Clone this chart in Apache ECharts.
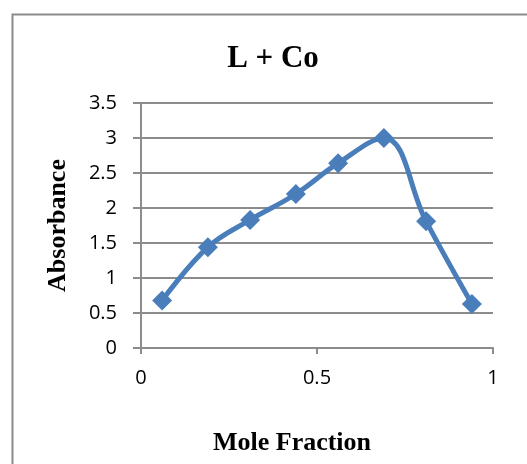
<!DOCTYPE html>
<html>
<head>
<meta charset="utf-8">
<script src="https://cdn.jsdelivr.net/npm/echarts@6/dist/echarts.min.js"></script>
<style>
  html, body { margin: 0; padding: 0; background: #fff; }
  #main { width: 527px; height: 464px; }
</style>
</head>
<body>
<div id="main"></div>
<script>
var moleFraction = [0.06, 0.19, 0.31, 0.44, 0.56, 0.69, 0.81, 0.94];
var absorbance = [0.68, 1.44, 1.83, 2.2, 2.64, 3.0, 1.81, 0.63];

var points = moleFraction.map(function (x, i) {
  return [x, absorbance[i]];
});

var myChart = echarts.init(document.getElementById("main"));
var gray = "#8c8c8c";
var option = {
  backgroundColor: "#fff",
  animation: false,
  graphic: [
    {
      type: "rect",
      left: 10,
      top: 12,
      shape: { width: 600, height: 600 },
      style: { fill: "none", stroke: gray, lineWidth: 2 },
    },
  ],
  title: {
    text: "L + Co",
    left: 268,
    top: 38,
    textAlign: "center",
    textStyle: {
      fontFamily: "Liberation Serif",
      fontWeight: "bold",
      fontSize: 31,
      color: "#000",
    },
  },
  grid: { left: 141, right: 34, top: 103, bottom: 116 },
  xAxis: {
    type: "value",
    min: 0,
    max: 1,
    interval: 0.5,
    name: "Mole Fraction",
    nameLocation: "middle",
    nameGap: 82,
    nameTextStyle: {
      fontFamily: "Liberation Serif",
      fontWeight: "bold",
      fontSize: 26,
      color: "#000",
      padding: [0, 50, 0, 0],
    },
    axisLine: { show: true, lineStyle: { color: gray, width: 2 } },
    axisTick: { show: true, length: 6, lineStyle: { color: gray, width: 2 } },
    axisLabel: {
      fontFamily: "Open Sans",
      fontSize: 20,
      color: "#000",
      margin: 20,
    },
    splitLine: { show: false },
  },
  yAxis: {
    type: "value",
    min: 0,
    max: 3.5,
    interval: 0.5,
    name: "Absorbance",
    nameLocation: "middle",
    nameGap: 70,
    nameTextStyle: {
      fontFamily: "Liberation Serif",
      fontWeight: "bold",
      fontSize: 26,
      color: "#000",
    },
    axisLine: { show: true, lineStyle: { color: gray, width: 2 } },
    axisTick: { show: true, length: 8, lineStyle: { color: gray, width: 2 } },
    axisLabel: {
      fontFamily: "Open Sans",
      fontSize: 20,
      color: "#000",
      margin: 24,
    },
    splitLine: { show: true, lineStyle: { color: gray, width: 2 } },
  },
  series: [
    {
      type: "line",
      data: points,
      smooth: 0.4,
      symbol: "diamond",
      symbolSize: 20,
      lineStyle: { color: "#4a7ebb", width: 5 },
      itemStyle: { color: "#4a7ebb" },
    },
  ],
};
myChart.setOption(option);
</script>
</body>
</html>
